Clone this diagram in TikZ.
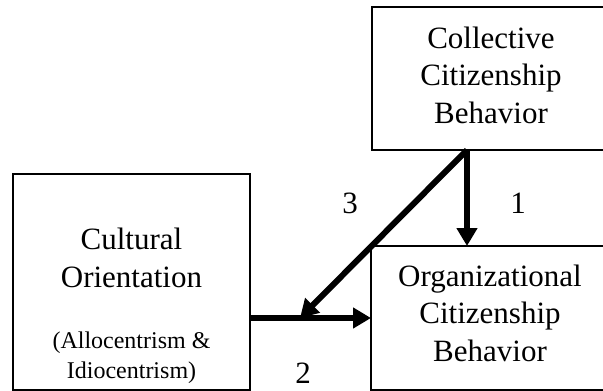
\documentclass[tikz,border=0pt]{standalone}
\usepackage{fontspec}
\setmainfont{Liberation Serif}
\usetikzlibrary{arrows.meta}

\begin{document}
\begin{tikzpicture}[y=1pt, x=1pt, yscale=-1, inner sep=0pt, outer sep=0pt]
\tikzset{box/.style={draw, line width=2.4pt},
  link/.style={line width=5.5pt, -{Triangle[length=18pt,width=20pt]}},
  lbl/.style={font=\fontsize{31}{37.5}\selectfont, align=center, anchor=base},
  sublbl/.style={font=\fontsize{24}{30}\selectfont, align=center, anchor=base},
  num/.style={font=\fontsize{31}{31}\selectfont, anchor=base}}
\clip (0,0) rectangle (603,391);
\node [box, minimum width=238pt, minimum height=143pt] (ccb) at (491,78.5) {};
\node [lbl] (ccbtext) at (491,123) {Collective\\Citizenship\\Behavior};
\node [box, minimum width=238pt, minimum height=144pt] (ocb) at (490,318) {};
\node [lbl] (ocbtext) at (490,361) {Organizational\\Citizenship\\Behavior};
\node [box, minimum width=237pt, minimum height=216pt] (cult) at (131.5,282) {};
\node [lbl] (culttext) at (131.5,287) {Cultural\\Orientation};
\node [sublbl] (cultsub) at (131.5,378) {(Allocentrism \&\\Idiocentrism)};
% paths
\coordinate (src) at (467,150);
\coordinate (mid) at (300,318);
\draw [link] (src) -- (src |- ocb.north);
\draw [link] (cult.east |- mid) -- (mid -| ocb.west);
\draw [link, line width=6pt] (src) -- (mid);
\node [num] (p1) at (518,213) {1};
\node [num] (p2) at (303,383) {2};
\node [num] (p3) at (350,213) {3};
\end{tikzpicture}
\end{document}
